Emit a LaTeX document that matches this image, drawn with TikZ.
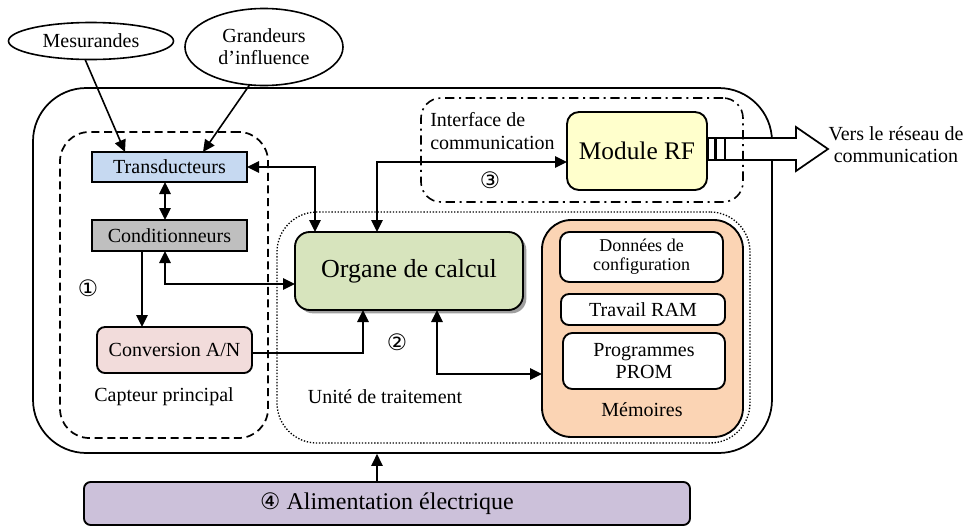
\documentclass[tikz,border=0pt]{standalone}
\usepackage{fontspec}
\setmainfont{Liberation Serif}
\newfontfamily\symfont{DejaVu Sans}
\usetikzlibrary{arrows.meta,shapes.geometric,shadows,calc}
\definecolor{cTrans}{HTML}{C6D9F1}
\definecolor{cCond}{HTML}{BFBFBF}
\definecolor{cConv}{HTML}{F2DCDB}
\definecolor{cOrg}{HTML}{D7E4BD}
\definecolor{cRF}{HTML}{FFFFCC}
\definecolor{cMem}{HTML}{FBD4B4}
\definecolor{cAlim}{HTML}{CCC1DA}
\tikzset{
  base/.style={font=\fontsize{15}{17}\selectfont},
  blk/.style={draw, line width=1.4pt, inner sep=0pt, outer sep=0pt, align=center},
  ell/.style={ellipse, draw, line width=1.2pt, inner sep=0pt, align=center},
  arr/.style={line width=1.2pt, -{Triangle[length=9pt,width=8.5pt]}},
  darr/.style={line width=1.2pt, {Triangle[length=9pt,width=8.5pt]}-{Triangle[length=9pt,width=8.5pt]}},
  outerbox/.style={draw, line width=1.3pt, rounded corners=40pt, inner sep=0pt},
  capbox/.style={draw, line width=1.3pt, dash pattern=on 6pt off 3.5pt, rounded corners=22pt, inner sep=0pt},
  unitbox/.style={draw, line width=1pt, dash pattern=on 1pt off 1.3pt, rounded corners=30pt, inner sep=0pt},
  ifbox/.style={draw, line width=1.2pt, dash pattern=on 7pt off 3.5pt on 1.5pt off 3.5pt, rounded corners=15pt, inner sep=0pt},
  lbl/.style={inner sep=0pt},
  num/.style={inner sep=0pt, font=\symfont\fontsize{17}{19}\selectfont},
  conn/.style={draw, line width=1pt, fill=white, inner sep=0pt, minimum height=22*0.75pt},
}
\begin{document}
\begin{tikzpicture}[x=0.75pt,y=-0.75pt,base]
\useasboundingbox (0,0) rectangle (968,529);

% containers
\node[outerbox, minimum width=739*0.75pt, minimum height=365*0.75pt] (outer) at (402.5,270.5) {};
\node[capbox, minimum width=208*0.75pt, minimum height=306*0.75pt] (cap) at (164,285) {};
\node[unitbox, minimum width=473*0.75pt, minimum height=231*0.75pt] (unit) at (513.5,327.5) {};

% big arrow to network
\node[conn, minimum width=7*0.75pt] (c1) at (711.5,149) {};
\node[conn, minimum width=9*0.75pt] (c2) at (720.5,149) {};
\draw[line width=1.3pt, fill=white, line join=miter] (725,138) -- (796,138) -- (796,127) -- (828,149) -- (796,171) -- (796,160) -- (725,160) -- cycle;
\node[lbl, align=center, font=\fontsize{15}{16.5}\selectfont] (vers) at (896,145) {Vers le réseau de\\communication};

\node[ifbox, minimum width=322*0.75pt, minimum height=104*0.75pt] (iface) at (582,150) {};

% inputs
\node[ell, minimum width=165*0.75pt, minimum height=37*0.75pt] (mes) at (91,41) {Mesurandes};
\node[ell, minimum width=158*0.75pt, minimum height=77*0.75pt, font=\fontsize{15}{16.5}\selectfont] (gra) at (264,47) {Grandeurs\\d’influence};

% capteur principal
\node[blk, fill=cTrans, minimum width=155*0.75pt, minimum height=30*0.75pt] (trans) at (169.5,167) {Transducteurs};
\node[blk, fill=cCond, minimum width=155*0.75pt, minimum height=31*0.75pt] (cond) at (169.5,235.5) {Conditionneurs};
\node[blk, fill=cConv, rounded corners=6pt, minimum width=155*0.75pt, minimum height=46*0.75pt] (conv) at (174.5,350) {Conversion A/N};
\node[num] (n1) at (88,288) {①};
\node[lbl] (capl) at (164,397) {Capteur principal};

% unité de traitement
\node[blk, fill=cOrg, rounded corners=11pt, minimum width=228*0.75pt, minimum height=78*0.75pt,
      drop shadow={shadow xshift=2.5pt, shadow yshift=-2.5pt, fill=gray!75, opacity=1},
      font=\fontsize{19.5}{22}\selectfont] (org) at (409,271) {Organe de calcul};
\node[num] (n2) at (397,342) {②};
\node[lbl] (unitl) at (385,397) {Unité de traitement};

% mémoires
\node[blk, fill=cMem, rounded corners=22pt, minimum width=201*0.75pt, minimum height=217*0.75pt] (mem) at (642.5,328.5) {};
\node[blk, fill=white, rounded corners=7pt, minimum width=163*0.75pt, minimum height=50*0.75pt, font=\fontsize{13.5}{14.5}\selectfont] (don) at (641.5,257) {Données de\\configuration};
\node[blk, fill=white, rounded corners=6pt, minimum width=164*0.75pt, minimum height=31*0.75pt] (ram) at (643,309.5) {Travail RAM};
\node[blk, fill=white, rounded corners=7pt, minimum width=162*0.75pt, minimum height=56*0.75pt, font=\fontsize{15}{16}\selectfont] (prom) at (644,361) {Programmes\\PROM};
\node[lbl] (meml) at (642,410) {Mémoires};

% interface de communication
\node[blk, fill=cRF, rounded corners=9pt, minimum width=140*0.75pt, minimum height=78*0.75pt, font=\fontsize{19}{22}\selectfont] (rf) at (637,151) {Module RF};
\node[lbl, anchor=west, align=left, font=\fontsize{15}{17}\selectfont] (ifl) at (430,131) {Interface de\\communication};
\node[num] (n3) at (490,180) {③};

% alimentation
\node[blk, fill=cAlim, rounded corners=5pt, minimum width=606*0.75pt, minimum height=43*0.75pt, font=\fontsize{18}{20}\selectfont] (alim) at (387,503.5) {{\symfont\fontsize{17}{19}\selectfont ④} Alimentation électrique};

% connectors
\draw[arr] ($(mes.south)+(-6,-1)$) -- ($(trans.north west)+(33,0)$);
\draw[arr] ($(gra.south)+(-14,-2)$) -- ($(trans.north west)+(111,0)$);

\coordinate (tc) at ($(trans.south)+(-4.5,0)$);
\draw[darr] (tc) -- (tc |- cond.north);

\coordinate (cc) at ($(cond.south west)+(50,0)$);
\draw[arr] (cc) -- (cc |- conv.north);

\coordinate (co) at ($(cond.south)+(-4.5,0)$);
\coordinate (co2) at ($(org.west)+(0,13)$);
\draw[darr] (co) |- (co2);

\coordinate (to) at ($(org.north west)+(20,0)$);
\draw[darr] (trans.east) -| (to);

\coordinate (cv) at ($(conv.east)+(0,3)$);
\coordinate (cv2) at ($(org.south west)+(68,0)$);
\draw[arr] (cv) -| (cv2);

\coordinate (om) at ($(org.south west)+(142,0)$);
\coordinate (om2) at ($(mem.west)+(0,45.5)$);
\draw[darr] (om) |- (om2);

\coordinate (orf) at ($(org.north west)+(82,0)$);
\coordinate (orf2) at ($(rf.west)+(0,11)$);
\draw[darr] (orf) |- (orf2);

\coordinate (al) at ($(alim.north)+(-10,0)$);
\draw[arr] (al) -- (al |- outer.south);
\end{tikzpicture}
\end{document}
